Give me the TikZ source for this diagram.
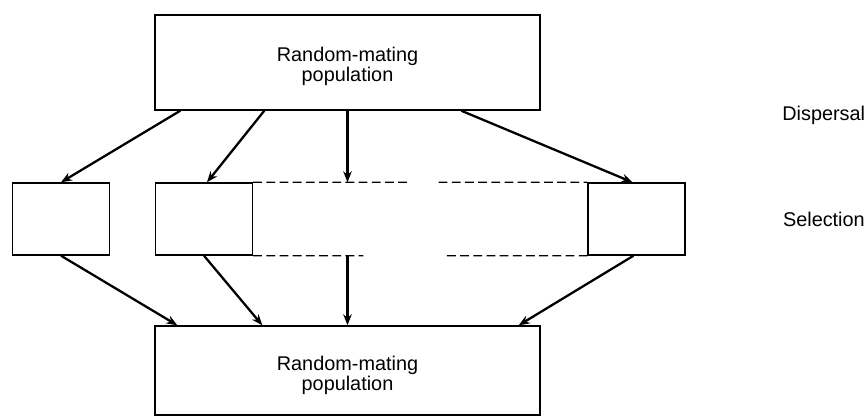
\documentclass[tikz,border=0pt]{standalone}
\usepackage{fontspec}
\setmainfont{Liberation Sans}
\usetikzlibrary{arrows.meta, positioning, calc}

\begin{document}
\begin{tikzpicture}[
    font=\fontsize{11.3}{11.4}\selectfont,
    popbox/.style={rectangle, draw, line width=0.8pt, minimum width=7.7cm},
    subbox/.style={rectangle, draw, line width=0.8pt, minimum width=1.94cm, minimum height=1.44cm},
    poptext/.style={align=center, inner sep=0pt},
    arrow/.style={-{Stealth[length=2.2mm, width=1.7mm]}, line width=1.3pt},
    edge/.style={dash pattern=on 5pt off 2.5pt, line width=0.7pt},
    lbl/.style={anchor=west, inner sep=0pt}
]
\useasboundingbox (0,0) rectangle (17.34,-8.36);

% populations
\node[popbox, minimum height=1.9cm] (top) at (6.95,-1.25) {};
\node[popbox, minimum height=1.78cm] (bot) at (6.95,-7.41) {};
\node[poptext, yshift=-0.08cm] (toptxt) at (top) {Random-mating\\population};
\node[poptext, yshift=-0.1cm] (bottxt) at (bot) {Random-mating\\population};

% subpopulations
\node[subbox] (s1) at (1.22,-4.38) {};
\node[subbox] (s2) at (4.08,-4.38) {};
\node[subbox] (s3) at (12.73,-4.38) {};

% dashed middle
\draw[edge] (s2.north east) -- ($(s2.north east)!0.46!(s3.north west)$);
\draw[edge] ($(s2.north east)!0.555!(s3.north west)$) -- (s3.north west);
\draw[edge] (s2.south east) -- ($(s2.south east)!0.33!(s3.south west)$);
\draw[edge] ($(s2.south east)!0.58!(s3.south west)$) -- (s3.south west);
\coordinate (mt) at (top.south |- s2.north);
\coordinate (mb) at (top.south |- s2.south);

% dispersal
\draw[arrow] ($(top.south west)+(0.52,0)$) -- (s1.north);
\draw[arrow] ($(top.south west)+(2.2,0)$) -- ($(s2.north)+(0.06,0)$);
\draw[arrow] (top.south) -- (mt);
\draw[arrow] ($(top.south west)+(6.14,0)$) -- ($(s3.north)+(-0.08,0)$);

% back to one population
\draw[arrow] (s1.south) -- ($(bot.north west)+(0.46,0)$);
\draw[arrow] (s2.south) -- ($(bot.north west)+(2.16,0)$);
\draw[arrow] (mb) -- (bot.north);
\draw[arrow] ($(s3.south)+(-0.06,0)$) -- ($(bot.north east)+(-0.44,0)$);

\node[lbl] (disp) at (15.64,-2.3) {Dispersal};
\node[lbl, right=1.94cm of s3] (sel) {Selection};
\end{tikzpicture}
\end{document}
